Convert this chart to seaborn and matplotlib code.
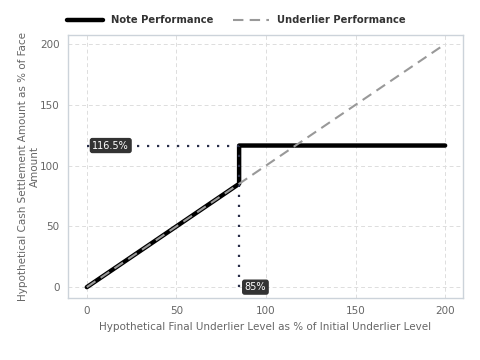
import matplotlib
matplotlib.use("Agg")
import matplotlib.pyplot as plt
import seaborn as sns
import pandas as pd

note_x = [0, 85, 85, 200]
note_y = [0, 85, 116.5, 116.5]
under_x = [0, 200]
under_y = [0, 200]
cap_level = 116.5
barrier = 85
xticks = [0, 50, 100, 150, 200]
yticks = [0, 50, 100, 150, 200]

sns.set_theme(style="whitegrid")
plt.rcParams['font.family'] = ['DejaVu Sans']

fig = plt.figure(figsize=(4.8, 3.6), dpi=100)
ax = fig.add_axes([0.1417, 0.172, 0.823, 0.731])

note_df = pd.DataFrame({"x": note_x, "y": note_y})
under_df = pd.DataFrame({"x": under_x, "y": under_y})

sns.lineplot(data=note_df, x="x", y="y", ax=ax, color="black", lw=3.2,
             label="Note Performance", sort=False, estimator=None, zorder=2)
sns.lineplot(data=under_df, x="x", y="y", ax=ax, color="#999999", lw=1.5,
             linestyle=(0, (5, 3)), label="Underlier Performance", sort=False,
             estimator=None, zorder=3)

# dotted reference lines
ax.plot([0, barrier], [cap_level, cap_level], color="#2a2f4a", lw=1.6,
        linestyle=(0, (1, 3.5)), zorder=4)
ax.plot([barrier, barrier], [0, cap_level], color="#2a2f4a", lw=1.6,
        linestyle=(0, (1, 3.5)), zorder=4)

bbox = dict(boxstyle="round,pad=0.2", fc="#333333", ec="#333333")
ax.annotate(f"{cap_level}%", xy=(0, cap_level), xytext=(4, 0), textcoords="offset points",
            ha="left", va="center", fontsize=7, color="white", bbox=bbox, zorder=5)
ax.annotate(f"{barrier}%", xy=(barrier, 0), xytext=(4, 0), textcoords="offset points",
            ha="left", va="center", fontsize=7, color="white", bbox=bbox, zorder=5)

ax.set_xlim(-10.5, 210)
ax.set_ylim(-9, 207.5)
ax.set_xticks(xticks)
ax.set_yticks(yticks)
ax.grid(True, color="#dddddd", linestyle=(0, (4, 3)), lw=0.7)
for s in ax.spines.values():
    s.set_color("#ccd3da")
    s.set_linewidth(1)
ax.tick_params(labelsize=7.5, colors="#666666", length=0, pad=6)
ax.set_xlabel("Hypothetical Final Underlier Level as % of Initial Underlier Level",
              fontsize=7.5, color="#666666")
ax.set_ylabel("Hypothetical Cash Settlement Amount as % of Face\nAmount",
              fontsize=7.5, color="#666666", labelpad=0)

handles, labels = ax.get_legend_handles_labels()
order = [labels.index("Note Performance"), labels.index("Underlier Performance")]
leg = ax.legend([handles[i] for i in order], [labels[i] for i in order],
                loc="lower left", bbox_to_anchor=(-0.02, 1.01), ncol=2, frameon=False,
                prop={"weight": "bold", "size": 7.2}, handlelength=3.6, columnspacing=2.0,
                borderaxespad=0.3)
for t in leg.get_texts():
    t.set_color("#333333")

fig.savefig("out.png", dpi=100)
